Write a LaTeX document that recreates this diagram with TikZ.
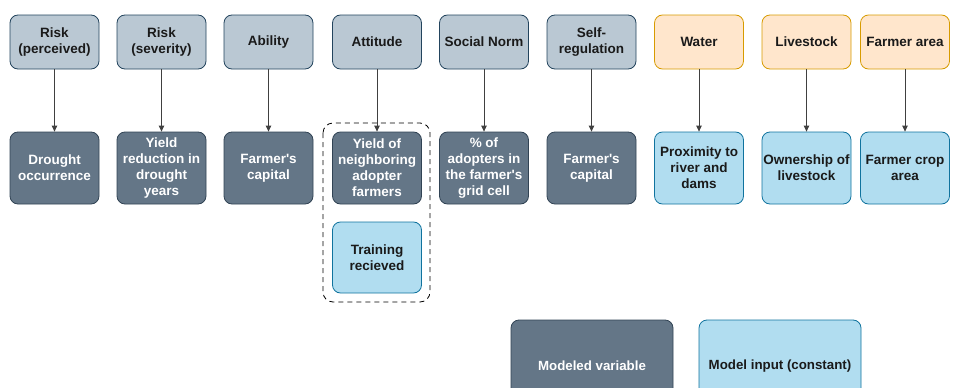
\documentclass[tikz,border=0pt]{standalone}
\usepackage{fontspec}
\setmainfont{Liberation Sans}
\usetikzlibrary{arrows.meta}
\definecolor{topfill}{HTML}{BAC8D3}
\definecolor{topline}{HTML}{23445D}
\definecolor{darkfill}{HTML}{647687}
\definecolor{darkline}{HTML}{314354}
\definecolor{bluefill}{HTML}{B1DDF0}
\definecolor{blueline}{HTML}{10739E}
\definecolor{orfill}{HTML}{FFE6CC}
\definecolor{orline}{HTML}{D79B00}
\definecolor{txt}{HTML}{1A1A1A}
\newcommand{\apo}{\textquotesingle}
\tikzset{
  box/.style={rounded corners=8pt, line width=0.8pt, align=center,
    font=\fontsize{13.5}{16}\selectfont\bfseries, inner sep=1pt},
  topbox/.style={box, draw=topline, fill=topfill, text=txt, minimum width=89pt, minimum height=54pt},
  orbox/.style={box, draw=orline, fill=orfill, text=txt, minimum width=89pt, minimum height=54pt},
  darkbox/.style={box, draw=darkline, fill=darkfill, text=white, minimum width=89pt, minimum height=72pt},
  bluebox/.style={box, draw=blueline, fill=bluefill, text=txt, minimum width=89pt, minimum height=72pt},
  conn/.style={draw=black!75, line width=0.8pt, -{Triangle[length=6pt,width=5.5pt]}},
}
\begin{document}
\begin{tikzpicture}[x=1pt,y=-1pt]
\useasboundingbox (0,0) rectangle (953,388);
\clip (0,0) rectangle (953,388);
% top row
\node[topbox] (t1) at (54.5,42) {Risk\\(perceived)};
\node[topbox] (t2) at (161.5,42) {Risk\\(severity)};
\node[topbox] (t3) at (268.5,42) {Ability};
\node[topbox] (t4) at (377,42) {Attitude};
\node[topbox] (t5) at (484,42) {Social Norm};
\node[topbox] (t6) at (591.5,42) {Self-\\regulation};
\node[orbox] (t7) at (699,42) {Water};
\node[orbox] (t8) at (806.5,42) {Livestock};
\node[orbox] (t9) at (905,42) {Farmer area};
% bottom row
\node[darkbox] (b1) at (54.5,168) {Drought\\occurrence};
\node[darkbox] (b2) at (161.5,168) {Yield\\reduction in\\drought\\years};
\node[darkbox] (b3) at (268.5,168) {Farmer\apo s\\capital};
\node[darkbox] (b4) at (377,168) {Yield of\\neighboring\\adopter\\farmers};
\node[darkbox] (b5) at (484,168) {\% of\\adopters in\\the farmer\apo s\\grid cell};
\node[darkbox] (b6) at (591.5,168) {Farmer\apo s\\capital};
\node[bluebox] (b7) at (699,168) {Proximity to\\river and\\dams};
\node[bluebox] (b8) at (806.5,168) {Ownership of\\livestock};
\node[bluebox] (b9) at (905,168) {Farmer crop\\area};
\node[bluebox, minimum height=71pt] (tr) at (377,257.5) {Training\\recieved};
% dashed group
\draw[line width=0.8pt, rounded corners=10pt, dash pattern=on 5pt off 4pt] (323,123) rectangle (430,302);
% connectors
\foreach \i in {1,...,9} \draw[conn] (t\i) -- (b\i);
% legend
\node[box, font=\fontsize{13.3}{16}\selectfont\bfseries, draw=darkline, fill=darkfill, text=white, minimum width=162pt, minimum height=92pt] (lg1) at (592,366) {Modeled variable};
\node[box, font=\fontsize{13.3}{16}\selectfont\bfseries, draw=blueline, fill=bluefill, text=txt, minimum width=162pt, minimum height=92pt] (lg2) at (780,366) {Model input (constant)};
\end{tikzpicture}
\end{document}
